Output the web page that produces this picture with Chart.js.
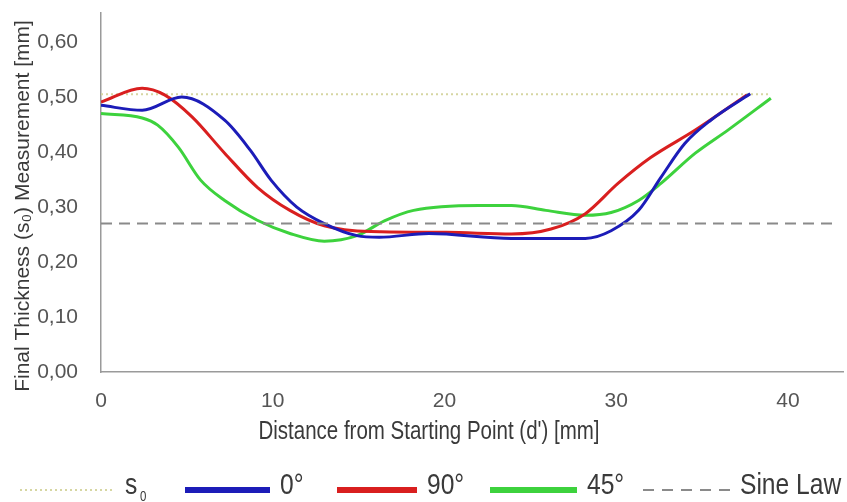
<!DOCTYPE html>
<html>
<head>
<meta charset="utf-8">
<script src="https://cdn.jsdelivr.net/npm/chart.js@4.4.1/dist/chart.umd.min.js"></script>
<style>
  html, body { margin: 0; padding: 0; background: #fff; }
  #wrap { width: 847px; height: 502px; }
</style>
</head>
<body>
<div id="wrap"><canvas id="thicknessChart" width="847" height="502"></canvas></div>
<script>
// --- data ---
const dist0   = [0, 2.4, 4.7, 7.2, 8.7, 9.9, 11.4, 13, 14.9, 16.2, 19.1, 23.9, 28.2, 29.7, 31.3, 32.6, 34, 35.5, 37.8];
const thick0  = [0.485, 0.476, 0.500, 0.458, 0.403, 0.349, 0.300, 0.270, 0.248, 0.245, 0.252, 0.243, 0.243, 0.257, 0.294, 0.354, 0.416, 0.458, 0.506];

const dist90  = [0, 2.4, 3.7, 5.3, 7.2, 9.1, 11, 13, 16.3, 20.1, 23.9, 26.2, 28.2, 30.1, 32, 34.6, 37.6];
const thick90 = [0.491, 0.516, 0.504, 0.464, 0.398, 0.336, 0.294, 0.266, 0.255, 0.254, 0.251, 0.260, 0.288, 0.343, 0.390, 0.440, 0.504];

const dist45  = [0, 2.4, 3.3, 4.5, 5.8, 7.2, 9.1, 11, 13, 14.9, 16.5, 18.2, 22, 23.9, 25.9, 28.2, 29.7, 31.3, 32.6, 34.6, 36.5, 39];
const thick45 = [0.470, 0.462, 0.449, 0.409, 0.349, 0.312, 0.276, 0.252, 0.238, 0.248, 0.275, 0.294, 0.303, 0.303, 0.294, 0.285, 0.290, 0.312, 0.343, 0.398, 0.440, 0.498];

const s0Dist = [0, 39];
const s0Thick = [0.505, 0.505];
const sineDist = [0, 42.6];
const sineThick = [0.27, 0.27];

const xTickStep = 10;
const yTickStep = 0.1;

const legendItems = [
    { label: "s", sub: "0", color: "#d6d6a2", width: 2, dash: [2, 3] },
    { label: "0°", color: "#1c1cb8", width: 6, dash: [] },
    { label: "90°", color: "#d91f1f", width: 6, dash: [] },
    { label: "45°", color: "#3dd23d", width: 6, dash: [] },
    { label: "Sine Law", color: "#8a8a8a", width: 2, dash: [11, 8] },
];

function toPoints(xs, ys) {
    return xs.map((x, i) => ({ x: x, y: ys[i] }));
}

// text squeezed sideways, the reference type is a tall narrow face
function narrowText(ctx, text, x, y, size, align) {
    ctx.save();
    ctx.translate(x, y);
    ctx.scale(0.82, 1);
    ctx.font = size + "px 'Liberation Sans', Arial, sans-serif";
    ctx.textAlign = align || "left";
    ctx.textBaseline = "middle";
    ctx.fillText(text, 0, 0);
    ctx.restore();
}

// === legend + axis titles drawn by hand ===
const extrasPlugin = {
    id: "extras",
    afterDraw(chart) {
        const ctx = chart.ctx;
        ctx.save();
        ctx.fillStyle = "#3a3a3a";

        // y title
        ctx.save();
        ctx.translate(23, 206);
        ctx.rotate(-Math.PI / 2);
        ctx.font = "21px 'Liberation Sans', Arial, sans-serif";
        ctx.textAlign = "center";
        ctx.textBaseline = "middle";
        ctx.fillText("Final Thickness (s₀) Measurement [mm]", 0, 0);
        ctx.restore();

        // x title
        narrowText(ctx, "Distance from Starting Point (d') [mm]", 429, 432, 25, "center");

        // legend
        const lineX = [[20, 115], [185, 270], [337, 417], [490, 577], [643, 732]];
        const textX = [125, 280, 427, 587, 740];
        const ly = 490;
        legendItems.forEach((it, i) => {
            ctx.save();
            ctx.strokeStyle = it.color;
            ctx.lineWidth = it.width;
            ctx.setLineDash(it.dash);
            ctx.beginPath();
            ctx.moveTo(lineX[i][0], ly);
            ctx.lineTo(lineX[i][1], ly);
            ctx.stroke();
            ctx.restore();
            ctx.fillStyle = "#3a3a3a";
            narrowText(ctx, it.label, textX[i], ly - 4, 30);
            if (it.sub) narrowText(ctx, it.sub, textX[i] + 15, ly + 7, 14);
        });
        ctx.restore();
    }
};

const ctx = document.getElementById("thicknessChart").getContext("2d");

new Chart(ctx, {
    type: "line",
    data: {
        datasets: [
            {
                label: "Sine Law",
                data: toPoints(sineDist, sineThick),
                borderColor: "#8a8a8a",
                borderWidth: 2,
                borderDash: [11, 7],
                pointRadius: 0,
                order: 0,
            },
            {
                label: "0°",
                data: toPoints(dist0, thick0),
                borderColor: "#1c1cb8",
                borderWidth: 3,
                cubicInterpolationMode: "monotone",
                pointRadius: 0,
                order: 1,
            },
            {
                label: "90°",
                data: toPoints(dist90, thick90),
                borderColor: "#d91f1f",
                borderWidth: 3,
                cubicInterpolationMode: "monotone",
                pointRadius: 0,
                order: 2,
            },
            {
                label: "45°",
                data: toPoints(dist45, thick45),
                borderColor: "#3dd23d",
                borderWidth: 3,
                cubicInterpolationMode: "monotone",
                pointRadius: 0,
                order: 3,
            },
            {
                label: "s0",
                data: toPoints(s0Dist, s0Thick),
                borderColor: "#d6d6a2",
                borderWidth: 2,
                borderDash: [2, 3],
                pointRadius: 0,
                order: 4,
            },
        ],
    },
    options: {
        responsive: false,
        animation: false,
        layout: { padding: { left: 0, right: 4, top: 13, bottom: 60 } },
        plugins: {
            legend: { display: false },
            tooltip: { enabled: false },
        },
        scales: {
            x: {
                type: "linear",
                min: 0,
                max: 43.2,
                grid: { display: false },
                border: { color: "#9a9a9a", width: 1.5 },
                ticks: {
                    stepSize: xTickStep,
                    includeBounds: false,
                    color: "#555",
                    padding: 9,
                    font: { family: "'Liberation Sans', Arial", size: 21 },
                },
                afterFit(scale) {
                    scale.height = 70;
                    scale.paddingLeft = 0;
                    scale.paddingRight = 0;
                },
            },
            y: {
                min: 0,
                max: 0.653,
                grid: { display: false },
                border: { color: "#9a9a9a", width: 1.5 },
                ticks: {
                    stepSize: yTickStep,
                    includeBounds: false,
                    color: "#555",
                    padding: 15,
                    font: { family: "'Liberation Sans', Arial", size: 21 },
                    callback: (v) => v.toFixed(2).replace(".", ","),
                },
                afterFit(scale) {
                    scale.width = 101;
                    scale.paddingTop = 0;
                    scale.paddingBottom = 0;
                },
            },
        },
    },
    plugins: [extrasPlugin],
});
</script>
</body>
</html>
